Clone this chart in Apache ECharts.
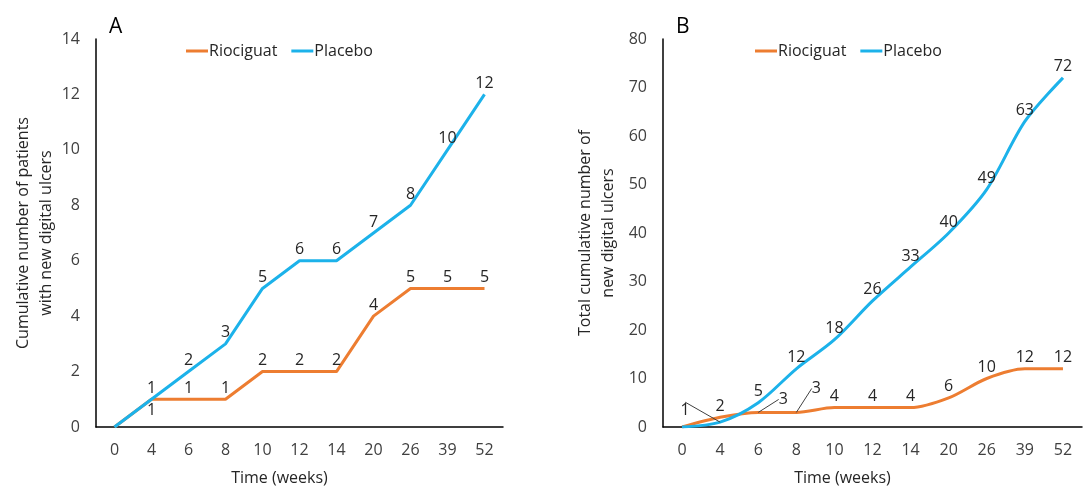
<!DOCTYPE html>
<html><head><meta charset="utf-8">
<script src="https://cdn.jsdelivr.net/npm/echarts@6/dist/echarts.min.js"></script>
<style>html,body{margin:0;padding:0;background:#fff}#c{width:1085px;height:489px}</style>
</head><body><div id="c"></div>
<script>
const weeks = ['0','4','6','8','10','12','14','20','26','39','52'];
const patientsRiociguat = [0,1,1,1,2,2,2,4,5,5,5];
const patientsPlacebo = [0,1,2,3,5,6,6,7,8,10,12];
const ulcersRiociguat = [0,2,3,3,4,4,4,6,10,12,12];
const ulcersPlacebo = [0,1,5,12,18,26,33,40,49,63,72];

const ORANGE = '#ED7D31', BLUE = '#1CB2EA';
const FONT = 'Open Sans';
const TXT = '#262626';

function items(arr, special) {
  return arr.map((v, i) => {
    const o = { value: v };
    if (i === 0) o.label = { show: false };
    if (special && special[i]) Object.assign(o, special[i]);
    return o;
  });
}

function lineSeries(name, data, color, xi, smooth, layout) {
  return {
    name, type: 'line', xAxisIndex: xi, yAxisIndex: xi, data,
    smooth: smooth, symbol: 'circle', symbolSize: 0,
    itemStyle: { color }, lineStyle: { color, width: 3 },
    label: { show: true, position: 'top', distance: 3, color: TXT, fontSize: 16, fontFamily: FONT },
    labelLine: { show: false, lineStyle: { color: '#404040', width: 1 } },
    labelLayout: layout || undefined,
    emphasis: { disabled: true }, z: name === 'Placebo' ? 3 : 2
  };
}

const axisLbl = { color: '#404040', fontSize: 16, fontFamily: FONT };
function xAx(gi, shift) {
  return {
    type: 'category', gridIndex: gi, data: weeks, boundaryGap: true,
    axisTick: { show: false }, axisLine: { lineStyle: { color: '#000', width: 1.5 } },
    axisLabel: Object.assign({ margin: 15 }, axisLbl),
    name: 'Time (weeks)', nameLocation: 'middle', nameGap: 43,
    nameTextStyle: { color: TXT, fontSize: 16, fontFamily: FONT, padding: [0, shift, 0, 0] }
  };
}
function yAx(gi, max, interval, name, gap) {
  return {
    type: 'value', gridIndex: gi, min: 0, max, interval,
    splitLine: { show: false }, axisTick: { show: false },
    axisLine: { show: true, lineStyle: { color: '#000', width: 1.5 } },
    axisLabel: Object.assign({ margin: 16 }, axisLbl),
    name, nameLocation: 'middle', nameGap: gap, nameRotate: 90,
    nameTextStyle: { color: TXT, fontSize: 16, fontFamily: FONT, lineHeight: 23 }
  };
}

const chart = echarts.init(document.getElementById('c'), null, { renderer: 'canvas' });
chart.setOption({
  animation: false,
  textStyle: { fontFamily: FONT },
  title: [
    { text: 'A', left: 104, top: 12, textStyle: { fontSize: 21, fontWeight: 'normal', color: '#000', fontFamily: FONT } },
    { text: 'B', left: 671, top: 12, textStyle: { fontSize: 21, fontWeight: 'normal', color: '#000', fontFamily: FONT } }
  ],
  legend: [
    { left: 181, top: 38, icon: 'rect', itemWidth: 22, itemHeight: 3, itemGap: 14,
      textStyle: { fontSize: 16, color: TXT, fontFamily: FONT, padding: [0, 0, 0, -4] },
      data: [{ name: 'Riociguat', itemStyle: { color: ORANGE } }, { name: 'Placebo', itemStyle: { color: BLUE } }] },
    { left: 750, top: 38, icon: 'rect', itemWidth: 22, itemHeight: 3, itemGap: 14,
      textStyle: { fontSize: 16, color: TXT, fontFamily: FONT, padding: [0, 0, 0, -4] },
      data: [{ name: 'Riociguat', itemStyle: { color: ORANGE } }, { name: 'Placebo', itemStyle: { color: BLUE } }] }
  ],
  grid: [
    { left: 96, top: 39, width: 407, height: 388, outerBoundsMode: 'none', containLabel: false },
    { left: 663, top: 39, width: 419, height: 388, outerBoundsMode: 'none', containLabel: false }
  ],
  xAxis: [xAx(0, 40), xAx(1, 60)],
  yAxis: [
    yAx(0, 14, 2, 'Cumulative number of patients\nwith new digital ulcers', 34),
    yAx(1, 80, 10, 'Total cumulative number of\nnew digital ulcers', 43)
  ],
  series: [
    lineSeries('Riociguat', items(patientsRiociguat, { 1: { label: { position: 'bottom', distance: 3 } } }), ORANGE, 0, false),
    lineSeries('Placebo', items(patientsPlacebo), BLUE, 0, false),
    lineSeries('Riociguat', items(ulcersRiociguat, {
      2: { labelLine: { show: true } }, 3: { labelLine: { show: true } }
    }), ORANGE, 1, 0.3, function (p) {
      if (p.dataIndex === 2) return { dx: 25, dy: -2 };
      if (p.dataIndex === 3) return { dx: 20, dy: -13 };
      return {};
    }),
    lineSeries('Placebo', items(ulcersPlacebo, { 1: { labelLine: { show: true } } }), BLUE, 1, 0.3, function (p) {
      if (p.dataIndex === 1) return { dx: -35, dy: -1 };
      return {};
    })
  ]
});
</script></body></html>
